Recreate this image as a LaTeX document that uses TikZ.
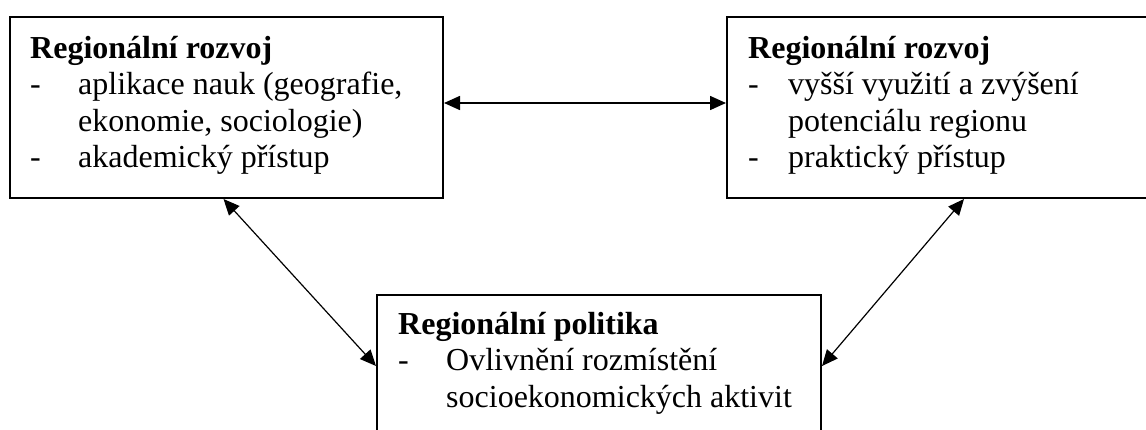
\documentclass[tikz,border=0pt]{standalone}
\usepackage{fontspec}
\setmainfont{Liberation Serif}
\usetikzlibrary{arrows.meta}
\begin{document}
\begin{tikzpicture}[x=1pt,y=-1pt,
  box/.style={draw, line width=2pt, rectangle, inner sep=0pt, anchor=north west},
  txt/.style={anchor=base west, inner sep=0pt, font=\fontsize{32}{36.5}\selectfont},
  link/.style={{Triangle[length=16pt,width=14pt]}-{Triangle[length=16pt,width=14pt]}, line width=1.2pt}]
\useasboundingbox (0,0) rectangle (1146,429);
\node[box, minimum width=433pt, minimum height=181pt] (L) at (9,16) {};
\node[box, minimum width=424pt, minimum height=181pt] (R) at (726,16) {};
\node[box, minimum width=444pt, minimum height=142pt] (B) at (376,294) {};
\node[txt] (Lt) at (30,58) {\begin{tabular}[t]{@{}p{48pt}@{}l@{}}\multicolumn{2}{@{}l@{}}{\textbf{Regionální rozvoj}}\\
-& aplikace nauk (geografie,\\
 & ekonomie, sociologie)\\
-& akademický přístup\end{tabular}};
\node[txt] (Rt) at (748,58) {\begin{tabular}[t]{@{}p{40pt}@{}l@{}}\multicolumn{2}{@{}l@{}}{\textbf{Regionální rozvoj}}\\
-& vyšší využití a zvýšení\\
 & potenciálu regionu\\
-& praktický přístup\end{tabular}};
\node[txt] (Bt) at (398,334) {\begin{tabular}[t]{@{}p{48pt}@{}l@{}}\multicolumn{2}{@{}l@{}}{\textbf{Regionální politika}}\\
-& Ovlivnění rozmístění\\
 & socioekonomických aktivit\end{tabular}};
\draw[link, line width=1.6pt] ([yshift=4.5pt]L.east) -- ([yshift=4.5pt]R.west);
\draw[link] ([xshift=-3pt]L.south) -- (B.west);
\draw[link] ([xshift=25pt]R.south) -- (B.east);
\end{tikzpicture}
\end{document}
